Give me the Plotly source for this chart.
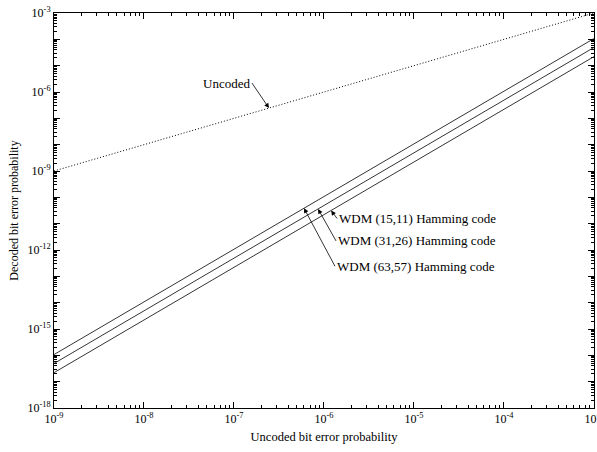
import numpy as np
import plotly.graph_objects as go

# Uncoded channel bit error probability (x) and decoded bit error probability (y)
p_uncoded = [1e-9, 1e-3]
ber_uncoded = [1e-9, 1e-3]
ber_ham_15_11 = [2.2e-17, 2.2e-5]
ber_ham_31_26 = [4.9e-17, 4.9e-5]
ber_ham_63_57 = [1.07e-16, 1.07e-4]

# Axis decades and labels
x_decades = [-9, -8, -7, -6, -5, -4, -3]
y_decades = list(range(-18, -2))
y_labeled = [-18, -15, -12, -9, -6, -3]

FONT = "Liberation Serif"


def sup(e):
    return "10<sup>%d</sup>" % e


fig = go.Figure()

fig.add_trace(go.Scatter(x=p_uncoded, y=ber_uncoded, mode="lines",
                         line=dict(color="black", width=1, dash="1px,2px"),
                         name="Uncoded"))
for name, ys in [("WDM (15,11) Hamming code", ber_ham_15_11),
                 ("WDM (31,26) Hamming code", ber_ham_31_26),
                 ("WDM (63,57) Hamming code", ber_ham_63_57)]:
    fig.add_trace(go.Scatter(x=p_uncoded, y=ys, mode="lines",
                             line=dict(color="black", width=0.8), name=name))


def on_line(xv, ys):
    # point on a straight log-log line at abscissa xv
    lx = np.log10(p_uncoded)
    ly = np.log10(ys)
    return float(np.interp(np.log10(xv), lx, ly))


# Leader annotations: (text, series, tip abscissa, tail offset in px, anchor)
labels = [
    ("Uncoded", ber_uncoded, 2.45e-7, -17, -25, "right"),
    ("WDM (15,11) Hamming code", ber_ham_15_11, 1.2e-6, 6, 8, "left"),
    ("WDM (31,26) Hamming code", ber_ham_31_26, 8.6e-7, 18, 32, "left"),
    ("WDM (63,57) Hamming code", ber_ham_63_57, 6.0e-7, 31, 58, "left"),
]
for text, ys, xt, ax, ay, anchor in labels:
    fig.add_annotation(x=np.log10(xt), y=on_line(xt, ys), text=text,
                       showarrow=True, ax=ax, ay=ay, xanchor=anchor,
                       arrowhead=2, arrowsize=1.2, arrowwidth=0.8,
                       arrowcolor="black",
                       font=dict(family=FONT, size=13, color="black"))

axis_common = dict(
    type="log", showgrid=False, zeroline=False, automargin=False,
    showline=True, linecolor="black", linewidth=1, mirror="ticks",
    ticks="inside", ticklen=6, tickcolor="black", tickwidth=1,
    ticklabeloverflow="allow",
    tickfont=dict(family=FONT, size=12, color="black"),
    minor=dict(ticks="inside", ticklen=3, dtick="D1", tickcolor="black",
               tickwidth=0.8),
)

fig.update_xaxes(**axis_common, range=[-9, -2.999],
                 tickmode="array", tickvals=[10.0 ** e for e in x_decades],
                 ticktext=[sup(e) for e in x_decades],
                 title=dict(text="Uncoded bit error probability",
                            font=dict(family=FONT, size=12.5, color="black"),
                            standoff=6))
fig.update_yaxes(**axis_common, range=[-18, -3],
                 tickmode="array", tickvals=[10.0 ** e for e in y_decades],
                 ticktext=[sup(e) if e in y_labeled else "" for e in y_decades],
                 title=dict(text="Decoded bit error probability",
                            font=dict(family=FONT, size=12, color="black"),
                            standoff=6))

fig.update_layout(width=597, height=452, showlegend=False,
                  margin=dict(l=54, r=3, t=13, b=44),
                  paper_bgcolor="white", plot_bgcolor="white")

fig.write_html("out.html")
